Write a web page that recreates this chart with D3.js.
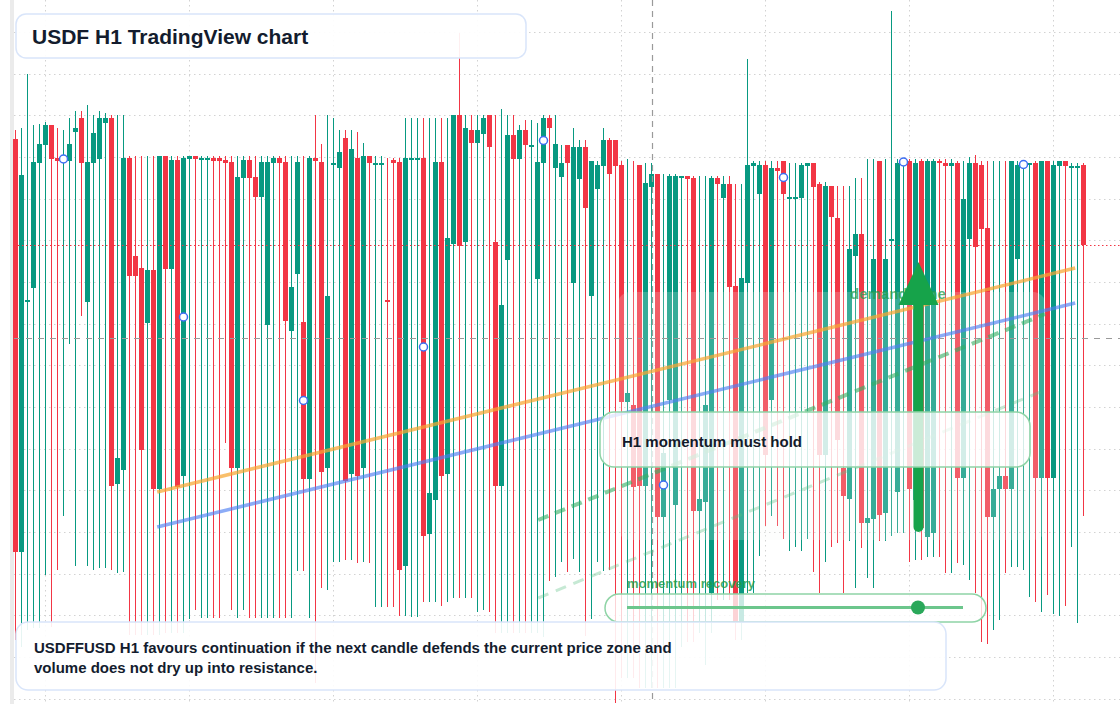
<!DOCTYPE html>
<html>
<head>
<meta charset="utf-8">
<script src="https://d3js.org/d3.v7.min.js"></script>
<style>
  html, body { margin: 0; padding: 0; background: #fff; }
  svg { display: block; font-family: "Liberation Sans", Arial, sans-serif; }
</style>
</head>
<body>
<svg width="1120" height="704"></svg>
<script>
// USDF H1 candles (index = hourly bar)
var high = [1.0270,1.0272,1.0326,1.0275,1.0276,1.0278,1.0275,1.0272,1.0270,1.0282,
  1.0289,1.0289,1.0295,1.0285,1.0289,1.0287,1.0285,1.0285,1.0285,1.0244,
  1.0244,1.0244,1.0244,1.0244,1.0244,1.0244,1.0244,1.0244,1.0244,1.0244,
  1.0244,1.0244,1.0244,1.0244,1.0244,1.0244,1.0244,1.0244,1.0244,1.0244,
  1.0244,1.0244,1.0244,1.0244,1.0244,1.0244,1.0244,1.0244,1.0244,1.0244,
  1.0285,1.0256,1.0285,1.0282,1.0270,1.0270,1.0270,1.0268,1.0257,1.0244,
  1.0244,1.0244,1.0242,1.0242,1.0242,1.0282,1.0282,1.0282,1.0282,1.0282,
  1.0282,1.0282,1.0282,1.0285,1.0367,1.0285,1.0285,1.0285,1.0285,1.0285,
  1.0285,1.0291,1.0285,1.0285,1.0275,1.0280,1.0280,1.0277,1.0285,1.0285,
  1.0285,1.0255,1.0255,1.0272,1.0260,1.0260,1.0239,1.0239,1.0272,1.0262,
  1.0260,1.0239,1.0241,1.0239,1.0235,1.0237,1.0237,1.0226,1.0226,1.0226,
  1.0226,1.0224,1.0224,1.0224,1.0224,1.0224,1.0224,1.0224,1.0224,1.0224,
  1.0216,1.0216,1.0341,1.0239,1.0239,1.0239,1.0239,1.0239,1.0239,1.0237,
  1.0237,1.0237,1.0237,1.0237,1.0218,1.0218,1.0214,1.0214,1.0214,1.0214,
  1.0222,1.0222,1.0241,1.0241,1.0239,1.0241,1.0389,1.0241,1.0241,1.0241,
  1.0241,1.0241,1.0241,1.0241,1.0241,1.0241,1.0241,1.0239,1.0239,1.0243,
  1.0245,1.0239,1.0239,1.0239,1.0239,1.0239,1.0239,1.0239,1.0239,1.0237,
  1.0239,1.0239,1.0239,1.0239,1.0239,1.0239,1.0237,1.0237,1.0237];
var open = [1.0261,0.9848,1.0098,1.0112,1.0237,1.0255,1.0275,1.0242,1.0239,1.0239,
  1.0268,1.0282,1.0098,1.0237,1.0241,1.0277,1.0282,0.9916,0.9930,1.0242,
  1.0144,1.0132,1.0077,1.0130,0.9911,1.0244,1.0131,1.0240,0.9924,1.0241,
  1.0244,1.0242,1.0242,1.0242,1.0242,1.0240,1.0238,0.9932,1.0222,1.0240,
  1.0223,1.0203,1.0075,1.0237,1.0242,1.0238,1.0069,1.0126,1.0078,0.9921,
  1.0242,1.0238,0.9932,1.0237,1.0232,1.0262,0.9926,1.0242,0.9932,1.0244,
  1.0237,1.0237,1.0100,1.0240,1.0238,0.9834,1.0242,1.0242,1.0242,0.9866,
  0.9900,1.0238,0.9926,1.0156,1.0285,1.0158,1.0270,1.0257,1.0266,1.0285,
  1.0158,0.9914,1.0140,1.0265,1.0241,1.0270,1.0255,1.0121,1.0237,1.0282,
  1.0232,1.0223,1.0255,1.0117,1.0221,1.0253,1.0104,1.0211,1.0234,1.0260,
  1.0260,1.0235,0.9998,0.9995,1.0235,0.9914,1.0213,1.0226,0.9883,1.0000,
  0.9895,1.0224,1.0224,1.0222,0.9889,0.9898,0.9807,1.0222,1.0202,1.0216,
  1.0114,0.9777,1.0117,1.0234,1.0206,1.0235,1.0000,1.0232,1.0239,1.0203,
  1.0203,1.0202,1.0234,1.0237,1.0216,0.9945,1.0214,1.0182,0.9932,0.9901,
  1.0144,1.0166,0.9877,0.9881,1.0239,0.9887,1.0161,0.9908,1.0237,1.0239,
  0.9900,1.0239,0.9863,0.9867,1.0239,1.0237,1.0234,1.0237,0.9922,1.0161,
  1.0237,1.0235,1.0172,0.9883,0.9911,0.9924,0.9911,1.0141,1.0234,1.0237,
  1.0237,0.9922,1.0239,0.9922,1.0234,1.0239,1.0234,1.0234,1.0235];
var close = [0.9848,1.0225,1.0100,1.0238,1.0256,1.0275,1.0241,1.0239,1.0243,1.0256,
  1.0272,1.0237,1.0238,1.0267,1.0282,1.0282,0.9914,0.9942,1.0242,1.0124,
  1.0124,0.9950,1.0130,0.9911,1.0244,1.0131,1.0240,0.9913,1.0242,1.0244,
  1.0241,1.0242,1.0242,1.0239,1.0239,1.0237,0.9932,1.0223,1.0240,1.0222,
  1.0203,1.0238,1.0238,1.0242,1.0237,1.0079,1.0113,1.0238,0.9921,1.0242,
  1.0239,0.9928,1.0104,1.0237,1.0248,0.9919,1.0251,0.9924,1.0244,1.0237,
  1.0237,1.0237,1.0098,1.0237,0.9830,1.0242,1.0242,1.0242,0.9864,0.9907,
  1.0238,0.9924,1.0162,1.0285,1.0154,1.0272,1.0257,1.0270,1.0282,1.0253,
  0.9914,1.0095,1.0265,1.0241,1.0270,1.0255,1.0255,1.0238,1.0282,1.0272,
  1.0256,1.0237,1.0237,1.0253,1.0253,1.0192,1.0239,1.0235,1.0260,1.0226,
  1.0234,0.9998,1.0007,0.9913,0.9914,1.0217,1.0226,0.9883,0.9947,1.0224,
  1.0224,1.0224,1.0221,0.9889,0.9901,0.9995,1.0222,1.0216,1.0216,1.0113,
  0.9777,1.0122,1.0235,1.0237,1.0235,0.9945,1.0232,1.0229,1.0206,1.0203,
  1.0203,1.0235,1.0237,1.0213,0.9945,1.0214,1.0183,0.9960,0.9904,1.0151,
  1.0166,0.9877,0.9882,1.0141,0.9885,1.0141,1.0161,1.0237,1.0239,0.9911,
  1.0237,0.9872,1.0239,1.0239,1.0237,1.0234,1.0237,0.9922,1.0201,1.0237,
  1.0153,1.0171,0.9883,0.9911,0.9924,0.9911,1.0239,1.0235,1.0237,1.0237,
  0.9922,1.0239,0.9922,1.0235,1.0239,1.0234,1.0234,1.0234,1.0155];
var low = [0.9760,0.9753,0.9770,0.9772,0.9772,0.9825,0.9773,0.9830,0.9884,1.0056,
  0.9834,1.0084,0.9834,0.9830,0.9832,0.9832,0.9830,0.9827,0.9828,0.9765,
  0.9765,0.9765,0.9765,0.9765,0.9765,0.9767,0.9767,0.9767,0.9767,0.9781,
  0.9790,0.9782,0.9782,0.9782,0.9782,0.9957,0.9790,0.9782,0.9790,0.9782,
  0.9782,0.9782,0.9782,0.9782,0.9782,0.9782,0.9782,0.9829,0.9829,0.9782,
  0.9717,0.9812,0.9810,0.9838,0.9838,0.9840,0.9840,0.9837,0.9838,0.9837,
  0.9793,0.9793,0.9793,0.9793,0.9784,0.9784,0.9783,0.9783,0.9798,0.9798,
  0.9798,0.9794,0.9798,0.9802,0.9802,0.9802,0.9802,0.9788,0.9790,0.9788,
  0.9767,0.9767,0.9767,0.9767,0.9767,0.9767,0.9767,0.9767,0.9763,0.9819,
  0.9823,0.9838,0.9828,0.9841,0.9828,0.9764,0.9781,0.9838,0.9829,0.9830,
  0.9697,0.9722,0.9722,0.9722,0.9712,0.9712,0.9712,0.9712,0.9712,0.9712,
  0.9712,0.9753,0.9758,0.9758,0.9767,0.9735,0.9767,0.9800,0.9800,0.9800,
  0.9760,0.9760,0.9807,0.9807,0.9844,0.9874,0.9884,0.9874,0.9861,0.9849,
  0.9853,0.9849,0.9861,0.9828,0.9807,0.9838,0.9853,0.9857,0.9807,0.9859,
  0.9812,0.9852,0.9822,0.9812,0.9859,0.9859,0.9864,0.9867,0.9867,0.9838,
  0.9840,0.9840,0.9843,0.9843,0.9843,0.9827,0.9827,0.9837,0.9835,0.9820,
  0.9807,0.9758,0.9756,0.9770,0.9780,0.9827,0.9833,0.9833,0.9830,0.9803,
  0.9798,0.9788,0.9805,0.9786,0.9784,0.9794,0.9853,0.9777,0.9884];

// blue circle markers on every 20th bar (body midpoint)
var markerBars = [8, 28, 48, 68, 88, 108, 128, 148, 168];
// horizontal grid prices and daily (24-bar) vertical grid
var gridPrices = [1.0368,1.0326,1.0285,1.0243,1.0201,1.0160,1.0118,1.0076,1.0035,
  0.9993,0.9951,0.9910,0.9868,0.9826,0.9785,0.9743,0.9701];
var gridBars = [5, 29, 53, 77, 101, 125, 149, 173];
var crosshair = {bar: 106.2, price: 1.0062};
// annotations in bar/price units
var orangeTrend = [[23.7, 0.9908], [176.7, 1.0132]];
var blueTrend = [[23.7, 0.9873], [176.7, 1.0097]];
var greenDash = [[87.2, 0.9880], [171.7, 1.0086]];
var greenDashLight = [[87.2, 0.9802], [171.7, 1.0010]];
var demandZone = {from: 100.5, to: 171.7, top: 1.0108, bottom: 0.9860};
var arrow = {bar: 150.5, from: 0.9868, to: 1.0138};

var svg = d3.select("svg"),
    width = +svg.attr("width"),
    height = +svg.attr("height");

var x = d3.scaleLinear().domain([0, 178]).range([15, 1083]);
var y = d3.scaleLinear().domain([1.04, 0.9696]).range([0, 704]);

var green = "#089981", red = "#f23645";

// left edge strip
svg.append("rect").attr("x", 10).attr("y", 0).attr("width", 4).attr("height", height).attr("fill", "#ebebeb");

// grid
var grid = svg.append("g").attr("stroke", "#d2d2d2").attr("stroke-dasharray", "1.5,3.5");
grid.selectAll(".gh").data(gridPrices).enter().append("line")
    .attr("x1", 14).attr("x2", width)
    .attr("y1", function(d) { return Math.round(y(d)) + 0.5; })
    .attr("y2", function(d) { return Math.round(y(d)) + 0.5; });
grid.selectAll(".gv").data(gridBars).enter().append("line")
    .attr("y1", 0).attr("y2", height)
    .attr("x1", function(d) { return x(d) + 0.5; })
    .attr("x2", function(d) { return x(d) + 0.5; });

// candles
var bars = d3.range(high.length);
var candles = svg.append("g");
candles.selectAll(".wick").data(bars).enter().append("line")
    .attr("x1", function(i) { return x(i) + 0.5; })
    .attr("x2", function(i) { return x(i) + 0.5; })
    .attr("y1", function(i) { return y(high[i]); })
    .attr("y2", function(i) { return y(low[i]); })
    .attr("stroke", function(i) { return close[i] >= open[i] ? green : red; })
    .attr("stroke-width", 1);
candles.selectAll(".body").data(bars).enter().append("rect")
    .attr("x", function(i) { return x(i) - 2; })
    .attr("width", 5)
    .attr("y", function(i) { return Math.min(y(open[i]), y(close[i])); })
    .attr("height", function(i) { return Math.max(2, Math.abs(y(open[i]) - y(close[i]))); })
    .attr("fill", function(i) { return close[i] >= open[i] ? green : red; });

// demand zone wash
svg.append("rect")
    .attr("x", x(demandZone.from)).attr("y", y(demandZone.top))
    .attr("width", x(demandZone.to) - x(demandZone.from))
    .attr("height", y(demandZone.bottom) - y(demandZone.top))
    .attr("rx", 12)
    .attr("fill", "#f4fbf6").attr("fill-opacity", 0.2);

// markers
svg.selectAll(".marker").data(markerBars).enter().append("circle")
    .attr("cx", function(i) { return x(i) + 0.5; })
    .attr("cy", function(i) { return y((open[i] + close[i]) / 2); })
    .attr("r", 4)
    .attr("fill", "#fff")
    .attr("stroke", "#3d6df2")
    .attr("stroke-width", 1.5);

// last price line
svg.append("line")
    .attr("x1", 18).attr("x2", width)
    .attr("y1", Math.round(y(close[close.length - 1])) + 0.5)
    .attr("y2", Math.round(y(close[close.length - 1])) + 0.5)
    .attr("stroke", red).attr("stroke-dasharray", "1.5,2.5");

// crosshair
svg.append("line")
    .attr("x1", 14).attr("x2", width)
    .attr("y1", Math.round(y(crosshair.price)) + 0.5).attr("y2", Math.round(y(crosshair.price)) + 0.5)
    .attr("stroke", "#9a9a9a").attr("stroke-width", 1.2).attr("stroke-dasharray", "6,6");
svg.append("line")
    .attr("x1", Math.round(x(crosshair.bar)) + 0.5).attr("x2", Math.round(x(crosshair.bar)) + 0.5)
    .attr("y1", 0).attr("y2", height)
    .attr("stroke", "#9a9a9a").attr("stroke-width", 1.2).attr("stroke-dasharray", "6,5");

// trend lines
var line = d3.line().x(function(d) { return x(d[0]); }).y(function(d) { return y(d[1]); });
svg.append("path").datum(orangeTrend).attr("d", line)
    .attr("stroke", "#f7a632").attr("stroke-opacity", 0.72).attr("stroke-width", 3.5).attr("fill", "none");
svg.append("path").datum(blueTrend).attr("d", line)
    .attr("stroke", "#4f80f2").attr("stroke-opacity", 0.65).attr("stroke-width", 3.5).attr("fill", "none");
svg.append("path").datum(greenDash).attr("d", line)
    .attr("stroke", "#34ad63").attr("stroke-opacity", 0.6).attr("stroke-width", 4)
    .attr("stroke-dasharray", "11,7").attr("fill", "none");
svg.append("path").datum(greenDashLight).attr("d", line)
    .attr("stroke", "#5cc084").attr("stroke-opacity", 0.35).attr("stroke-width", 3)
    .attr("stroke-dasharray", "11,8").attr("fill", "none");

// demand zone label
svg.append("text")
    .attr("x", 850).attr("y", y(demandZone.top) + 7)
    .attr("fill", "#1f9e4c").attr("fill-opacity", 0.75)
    .attr("font-size", 15).attr("font-weight", "bold")
    .text("demand zone");

// arrow
var ax = x(arrow.bar) + 0.5;
svg.append("line")
    .attr("x1", ax).attr("x2", ax)
    .attr("y1", y(arrow.from) - 5).attr("y2", y(arrow.to) + 30)
    .attr("stroke", "#16a34a").attr("stroke-width", 10).attr("stroke-linecap", "round");
svg.append("path")
    .attr("d", "M" + ax + "," + y(arrow.to) + "L" + (ax + 20) + "," + (y(arrow.to) + 43) +
               "L" + (ax - 20) + "," + (y(arrow.to) + 43) + "Z")
    .attr("fill", "#16a34a");

// callout
svg.append("rect")
    .attr("x", 600).attr("y", 412).attr("width", 430).attr("height", 55).attr("rx", 14)
    .attr("fill", "#ffffff").attr("fill-opacity", 0.78)
    .attr("stroke", "#8fd4a6").attr("stroke-width", 1.5);
svg.append("text")
    .attr("x", 622).attr("y", 447)
    .attr("fill", "#131a2a").attr("font-size", 15).attr("font-weight", "bold")
    .text("H1 momentum must hold");

// momentum recovery slider
svg.append("text")
    .attr("x", 627).attr("y", 588)
    .attr("fill", "#1f9e4c").attr("fill-opacity", 0.85)
    .attr("font-size", 13).attr("font-weight", "bold")
    .text("momentum recovery");
svg.append("rect")
    .attr("x", 605).attr("y", 594).attr("width", 381).attr("height", 28).attr("rx", 14)
    .attr("fill", "#ffffff").attr("fill-opacity", 0.78)
    .attr("stroke", "#8fd4a6").attr("stroke-width", 1.5);
svg.append("line")
    .attr("x1", 627).attr("x2", 963).attr("y1", 607.5).attr("y2", 607.5)
    .attr("stroke", "#6cc68c").attr("stroke-width", 3);
svg.append("circle")
    .attr("cx", 918).attr("cy", 607.5).attr("r", 7)
    .attr("fill", "#2aa85a");

// title box
svg.append("rect")
    .attr("x", 16).attr("y", 14).attr("width", 510).attr("height", 44).attr("rx", 10)
    .attr("fill", "#ffffff").attr("fill-opacity", 0.92)
    .attr("stroke", "#d9e5fa").attr("stroke-width", 1.5);
svg.append("text")
    .attr("x", 32).attr("y", 43.5)
    .attr("fill", "#131c2e").attr("font-size", 21).attr("font-weight", "bold")
    .text("USDF H1 TradingView chart");

// bottom note
svg.append("rect")
    .attr("x", 16).attr("y", 622).attr("width", 930).attr("height", 68).attr("rx", 12)
    .attr("fill", "#ffffff").attr("fill-opacity", 0.9)
    .attr("stroke", "#d9e5fa").attr("stroke-width", 1.5);
var note = svg.append("text")
    .attr("fill", "#131c2e").attr("font-size", 15).attr("font-weight", "bold");
note.append("tspan").attr("x", 34).attr("y", 653)
    .text("USDFFUSD H1 favours continuation if the next candle defends the current price zone and");
note.append("tspan").attr("x", 34).attr("y", 673)
    .text("volume does not dry up into resistance.");
</script>
</body>
</html>
